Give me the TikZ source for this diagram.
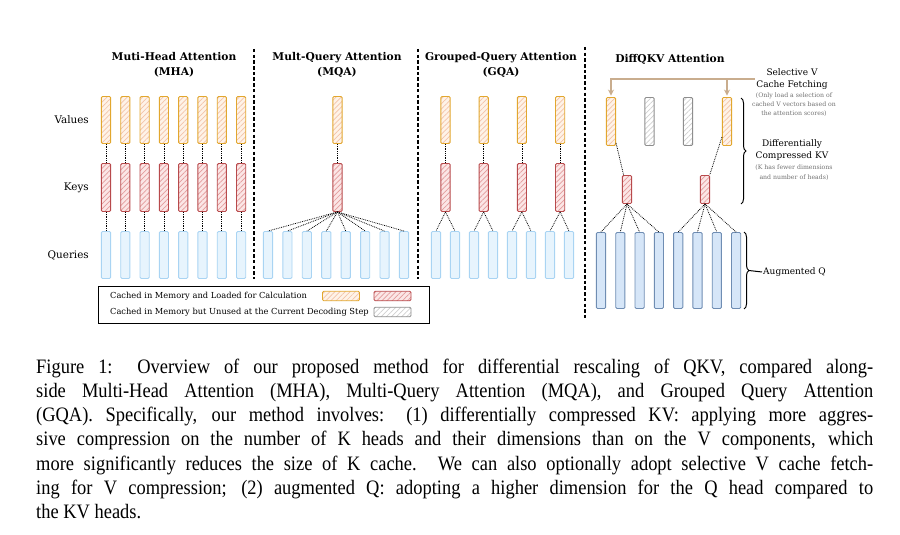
\documentclass[tikz,border=0pt]{standalone}
\usepackage{fontspec}
\setmainfont{DejaVu Serif}
\newfontfamily\capfont{Liberation Serif}[FakeStretch=0.9]
\usetikzlibrary{patterns.meta,decorations.pathreplacing,arrows.meta}

\definecolor{valline}{HTML}{E2A72E}
\definecolor{valfill}{HTML}{FEF3E8}
\definecolor{valhatch}{HTML}{F4C3A8}
\definecolor{keyline}{HTML}{B84A4C}
\definecolor{keyfill}{HTML}{FBE6E6}
\definecolor{keyhatch}{HTML}{E39C9C}
\definecolor{qline}{HTML}{A9D4F3}
\definecolor{qfill}{HTML}{E7F4FD}
\definecolor{dqline}{HTML}{6F8DB3}
\definecolor{dqfill}{HTML}{D6E6F8}
\definecolor{unline}{HTML}{8E8E8E}
\definecolor{unhatch}{HTML}{D0D0D0}
\definecolor{fetchcol}{HTML}{C9AD8E}
\definecolor{notecol}{HTML}{707070}

\tikzset{
  head/.style={draw, rounded corners=1.2pt, inner sep=0pt, minimum width=9.2pt, line width=0.9pt},
  hatched/.style={preaction={fill=#1}, pattern={Lines[angle=45,distance=3.6pt,line width=0.7pt]}},
  value/.style={head, minimum height=47pt, draw=valline, hatched=valfill, pattern color=valhatch},
  key/.style={head, minimum height=48pt, draw=keyline, hatched=keyfill, pattern color=keyhatch},
  query/.style={head, minimum height=47pt, draw=qline, fill=qfill},
  unused/.style={head, minimum height=48pt, draw=unline, hatched=white, pattern color=unhatch},
  augquery/.style={head, minimum height=76pt, draw=dqline, fill=dqfill},
  link/.style={densely dotted, line width=0.8pt},
  sep/.style={dash pattern=on 3.5pt off 2.2pt, line width=1.4pt},
  title/.style={align=center, font=\bfseries\fontsize{10.7}{14.5}\selectfont},
  rowlabel/.style={anchor=east, inner sep=0pt, font=\fontsize{10.4}{12}\selectfont},
  side/.style={align=center, inner sep=1pt, font=\fontsize{9}{12.3}\selectfont},
  note/.style={align=center, inner sep=0pt, text=notecol, font=\fontsize{6.2}{9.3}\selectfont},
  legtext/.style={anchor=west, inner sep=0pt, font=\fontsize{8.3}{9}\selectfont},
  fetch/.style={draw=fetchcol, line width=1.3pt, -{Stealth[length=6pt,width=6pt]}, shorten >=1.5pt},
  brace/.style={decorate, decoration={brace, amplitude=5pt}, line width=1pt},
  capline/.style={anchor=base west, inner sep=0pt, font=\capfont\fontsize{20.5}{24.3}\selectfont}
}
\newcommand{\capln}[1]{\makebox[837pt][s]{#1}}

\begin{document}
\begin{tikzpicture}[x=1pt, y=-1pt]
  \useasboundingbox (0,0) rectangle (900,535);

  % titles and row labels
  \node[title] (mhat) at (174,65) {Muti-Head Attention\\(MHA)};
  \node[title] (mqat) at (337,65) {Mult-Query Attention\\(MQA)};
  \node[title] (gqat) at (501,65) {Grouped-Query Attention\\(GQA)};
  \node[title] (dqt) at (670,59) {DiffQKV Attention};
  \node[rowlabel] (vlab) at (89,120) {Values};
  \node[rowlabel] (klab) at (89,188) {Keys};
  \node[rowlabel] (qlab) at (89,255) {Queries};

  % separators
  \draw[sep] (254,49) -- (254,279);
  \draw[sep] (418,49) -- (418,279);
  \draw[sep] (585,47) -- (585,318);

  % MHA
  \foreach \i [evaluate=\i as \x using 106+19.3*(\i-1)] in {1,...,8} {
    \node[value] (mhav\i) at (\x,120) {};
    \node[key] (mhak\i) at (\x,187.5) {};
    \node[query] (mhaq\i) at (\x,255) {};
    \draw[link] (mhav\i) -- (mhak\i);
    \draw[link] (mhak\i) -- (mhaq\i);
  }

  % MQA
  \node[value] (mqav) at (337.5,120) {};
  \node[key] (mqak) at (337.5,187.5) {};
  \draw[link] (mqav) -- (mqak);
  \foreach \i [evaluate=\i as \x using 268+19.43*(\i-1)] in {1,...,8} {
    \node[query] (mqaq\i) at (\x,255) {};
    \draw[link] (mqak.south) -- (mqaq\i.north);
  }

  % GQA
  \foreach \i [evaluate=\i as \x using 436+19*(\i-1)] in {1,...,8}
    \node[query] (gqaq\i) at (\x,255) {};
  \foreach \j [evaluate=\j as \x using 445.5+38.2*(\j-1),
               evaluate=\j as \a using int(2*\j-1),
               evaluate=\j as \b using int(2*\j)] in {1,...,4} {
    \node[value] (gqav\j) at (\x,120) {};
    \node[key] (gqak\j) at (\x,187.5) {};
    \draw[link] (gqav\j) -- (gqak\j);
    \draw[link] (gqak\j.south) -- (gqaq\a.north);
    \draw[link] (gqak\j.south) -- (gqaq\b.north);
  }

  % DiffQKV
  \node[value, minimum height=48pt] (dqv1) at (611,121.5) {};
  \node[unused] (dqv2) at (649.5,121.5) {};
  \node[unused] (dqv3) at (688,121.5) {};
  \node[value, minimum height=48pt] (dqv4) at (727,121.5) {};
  \node[key, minimum height=28pt] (dqk1) at (627,189.5) {};
  \node[key, minimum height=28pt] (dqk2) at (705,189.5) {};
  \draw[link] (dqv1) -- (dqk1);
  \draw[link] (dqv4) -- (dqk2);
  \foreach \i [evaluate=\i as \x using 601+19.3*(\i-1)] in {1,...,8}
    \node[augquery] (dqq\i) at (\x,270.5) {};
  \foreach \i in {1,...,4}
    \draw[link] (dqk1.south) -- (dqq\i.north);
  \foreach \i in {5,...,8}
    \draw[link] (dqk2.south) -- (dqq\i.north);

  % side notes
  \node[side] (fetchlab) at (792,79) {Selective V\\Cache Fetching};
  \node[note] (fetchnote) at (794,104.5) {(Only load a selection of\\cached V vectors based on\\the attention scores)};
  \draw[fetch] (fetchlab.west) -| (dqv1.north);
  \draw[fetch] (fetchlab.west -| dqv4.north) -- (dqv4.north);
  \node[side] (ckvlab) at (792,150) {Differentially\\Compressed KV};
  \node[note] (ckvnote) at (794,172.5) {(K has fewer dimensions\\and number of heads)};
  \draw[brace] (741,98) -- (741,204);
  \draw[brace] (744,232) -- coordinate[xshift=5pt] (augtip) (744,309);
  \node[side, anchor=west] (auglab) at (762,272) {Augmented Q};
  \draw[line width=1pt] (augtip) -- (auglab.west);

  % legend
  \node[draw, line width=0.7pt, inner sep=0pt, minimum width=331pt, minimum height=37pt] (legend) at (263.5,304.5) {};
  \node[legtext] (leg1) at (110,296) {Cached in Memory and Loaded for Calculation};
  \node[legtext] (leg2) at (110,312) {Cached in Memory but Unused at the Current Decoding Step};
  \node[value, minimum width=37pt, minimum height=9.5pt] (swval) at (341,296) {};
  \node[key, minimum width=37pt, minimum height=9.5pt] (swkey) at (392.5,296) {};
  \node[unused, minimum width=37pt, minimum height=9.5pt] (swun) at (392.5,312) {};

  % caption
  \node[capline] (cap1) at (36,373) {\capln{Figure 1: Overview of our proposed method for differential rescaling of QKV, compared along-}};
  \node[capline] (cap2) at (36,397.3) {\capln{side Multi-Head Attention (MHA), Multi-Query Attention (MQA), and Grouped Query Attention}};
  \node[capline] (cap3) at (36,421.6) {\capln{(GQA). Specifically, our method involves: (1) differentially compressed KV: applying more aggres-}};
  \node[capline] (cap4) at (36,445.9) {\capln{sive compression on the number of K heads and their dimensions than on the V components, which}};
  \node[capline] (cap5) at (36,470.2) {\capln{more significantly reduces the size of K cache. We can also optionally adopt selective V cache fetch-}};
  \node[capline] (cap6) at (36,494.5) {\capln{ing for V compression; (2) augmented Q: adopting a higher dimension for the Q head compared to}};
  \node[capline] (cap7) at (36,518.8) {the KV heads.};
\end{tikzpicture}
\end{document}
